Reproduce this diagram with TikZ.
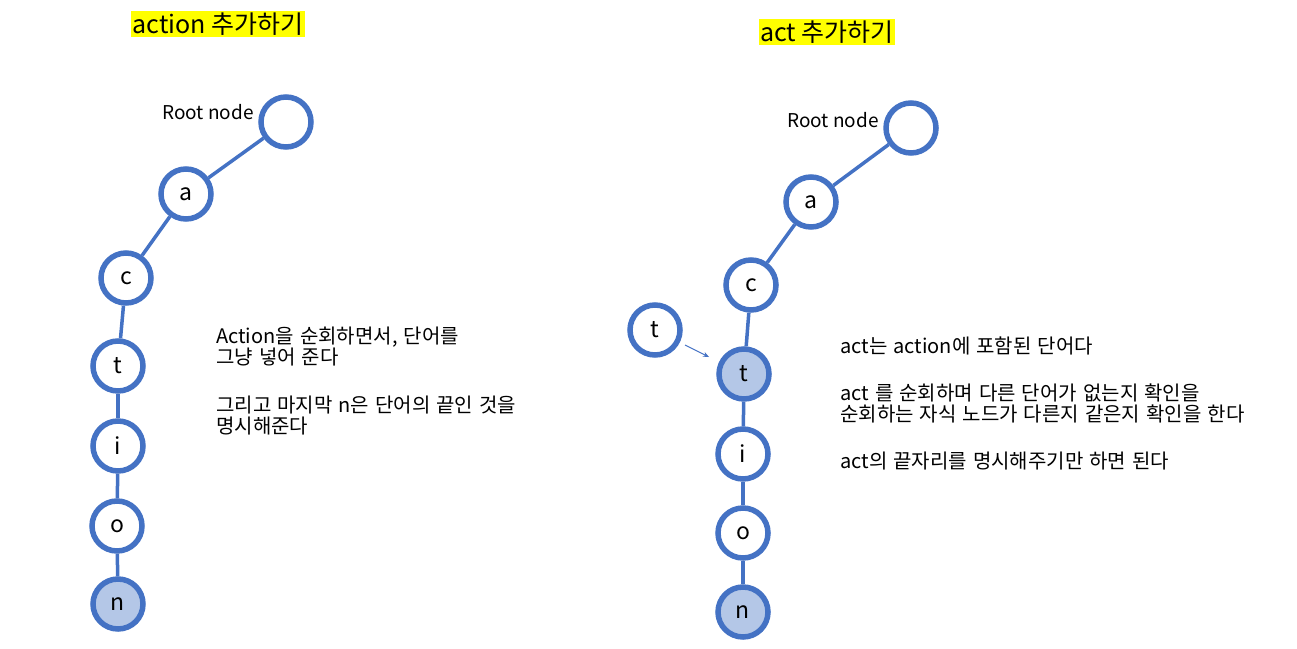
\documentclass[tikz,border=0pt]{standalone}
\usepackage{fontspec}
\setmainfont{Noto Sans CJK KR}
\newfontfamily\notefont[WordSpace=1.35]{Noto Sans CJK KR}
\usetikzlibrary{arrows.meta}
\definecolor{nodeblue}{HTML}{4472C4}
\definecolor{nodefill}{HTML}{B4C7E7}
\definecolor{hl}{HTML}{FFFF00}
\begin{document}
\begin{tikzpicture}[x=1pt,y=-1pt,
  trienode/.style={circle,draw=nodeblue,line width=5.5pt,fill=white,minimum size=50pt,inner sep=0pt,font=\fontsize{23}{26}\selectfont},
  endnode/.style={trienode,fill=nodefill},
  edge/.style={draw=nodeblue,line width=3.5pt},
  title/.style={fill=hl,inner sep=1.5pt,font=\fontsize{25}{28}\selectfont},
  note/.style={anchor=west,align=left,inner sep=0pt,font=\notefont\fontsize{20}{21}\selectfont},
  lbl/.style={inner sep=0pt,font=\fontsize{19}{22}\selectfont}]
\useasboundingbox (0,0) rectangle (1297,648);
% left tree
\node[title] (t1) at (218,24) {action 추가하기};
\node[trienode] (r1) at (286,122) {};
\node[lbl] (rl1) at (208,112) {Root node};
\node[trienode] (a1) at (186,194) {a};
\node[trienode] (c1) at (126,278) {c};
\node[trienode] (tt1) at (118,366) {t};
\node[trienode] (i1) at (118,446) {i};
\node[trienode] (o1) at (117,526) {o};
\node[endnode] (n1) at (118,604) {n};
\draw[edge] (r1) -- (a1);
\draw[edge] (a1) -- (c1);
\draw[edge] (c1) -- (tt1);
\draw[edge] (tt1) -- (i1);
\draw[edge] (i1) -- (o1);
\draw[edge] (o1) -- (n1);
\node[note] (n1a) at (216,347) {Action을 순회하면서, 단어를\\그냥 넣어 준다};
\node[note] (n1b) at (216,416) {그리고 마지막 n은 단어의 끝인 것을\\명시해준다};
% right tree
\node[title] (t2) at (827,32) {act 추가하기};
\node[trienode] (r2) at (911,128) {};
\node[lbl] (rl2) at (833,120) {Root node};
\node[trienode] (a2) at (811,202) {a};
\node[trienode] (c2) at (751,285) {c};
\node[endnode] (tt2) at (744,374) {t};
\node[trienode] (i2) at (743,454) {i};
\node[trienode] (o2) at (743,533) {o};
\node[endnode] (n2) at (743,612) {n};
\node[trienode] (tx) at (655,330) {t};
\draw[edge] (r2) -- (a2);
\draw[edge] (a2) -- (c2);
\draw[edge] (c2) -- (tt2);
\draw[edge] (tt2) -- (i2);
\draw[edge] (i2) -- (o2);
\draw[edge] (o2) -- (n2);
\coordinate (as) at (685,345);
\coordinate (ae) at (709,357);
\draw[nodeblue,line width=0.9pt,-{Stealth[length=6pt,width=5pt]}] (as) -- (ae);
\node[note] (n2a) at (840,346) {act는 action에 포함된 단어다};
\node[note] (n2b) at (840,403) {act 를 순회하며 다른 단어가 없는지 확인을\\순회하는 자식 노드가 다른지 같은지 확인을 한다};
\node[note] (n2c) at (840,461) {act의 끝자리를 명시해주기만 하면 된다};
\end{tikzpicture}
\end{document}
